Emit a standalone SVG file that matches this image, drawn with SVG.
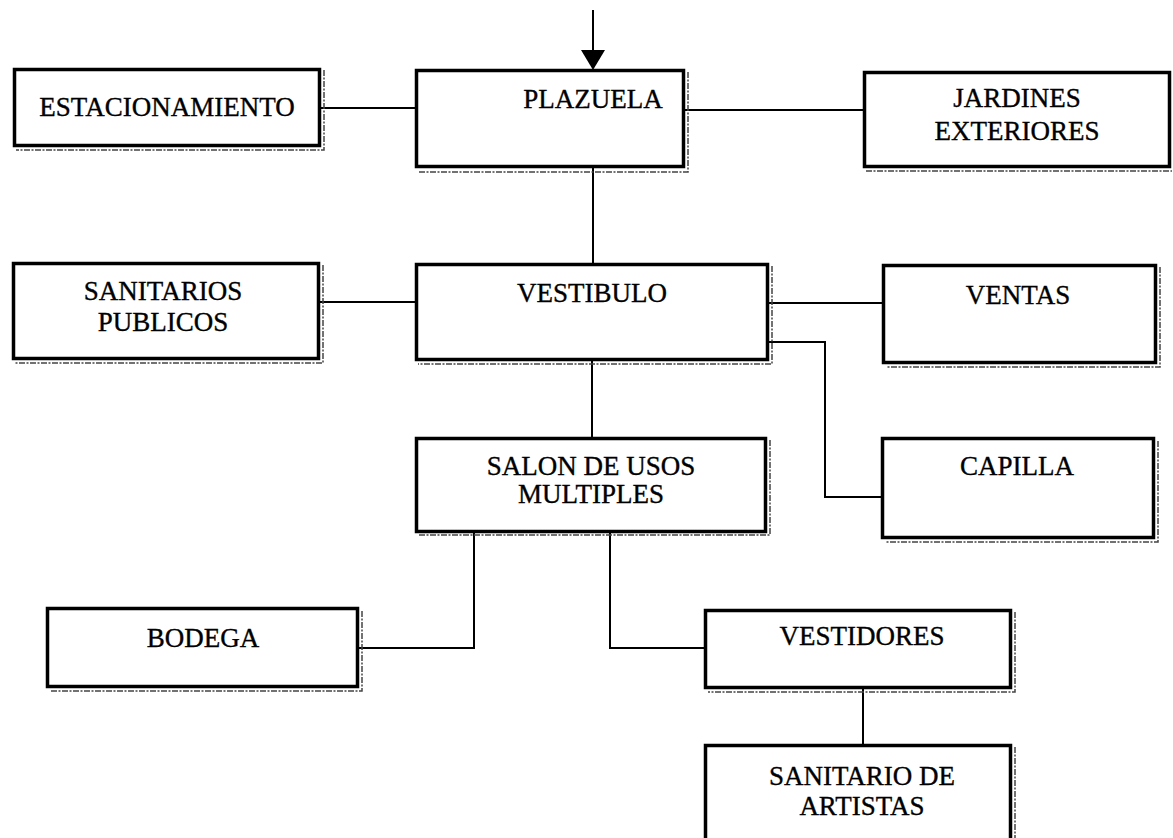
<svg xmlns="http://www.w3.org/2000/svg" width="1173" height="838" viewBox="0 0 1173 838">
<style>
.box{fill:#fff;stroke:#000;stroke-width:3.5}
.sh{fill:none;stroke:#444;stroke-width:1.5;stroke-dasharray:6 1.5 2 1.5}
.lbl{font-family:"Liberation Serif","Times New Roman",serif;font-size:27px;fill:#000;stroke:#000;stroke-width:0.35;text-anchor:middle}
.c{fill:none;stroke:#000;stroke-width:2}
</style>
<rect width="1173" height="838" fill="#fff"/>
<g id="connectors">
<line class="c" x1="593" y1="10" x2="593" y2="54"/>
<polygon points="581,50 605,50 593,70" fill="#000"/>
<line class="c" x1="320" y1="108" x2="415" y2="108"/>
<line class="c" x1="683" y1="110" x2="863" y2="110"/>
<line class="c" x1="593" y1="166" x2="593" y2="264"/>
<line class="c" x1="318" y1="302" x2="415" y2="302"/>
<line class="c" x1="767" y1="303" x2="883" y2="303"/>
<polyline class="c" points="767,342 825,342 825,497 882,497"/>
<line class="c" x1="592" y1="359" x2="592" y2="438"/>
<polyline class="c" points="474,531 474,648 357,648"/>
<polyline class="c" points="610,531 610,648 705,648"/>
<line class="c" x1="863" y1="687" x2="863" y2="745"/>
</g>
<g id="estacionamiento">
<polyline class="sh" points="324,70 324,150 16,150"/>
<rect class="box" x="14.5" y="69.5" width="305" height="76"/>
<text class="lbl" x="167" y="116" font-size="27.5">ESTACIONAMIENTO</text>
</g>
<g id="plazuela">
<polyline class="sh" points="688,72 688,172 418,172"/>
<rect class="box" x="416.5" y="70.5" width="267" height="96"/>
<text class="lbl" x="593" y="108">PLAZUELA</text>
</g>
<g id="jardines">
<polyline class="sh" points="866,171 1172,171"/>
<rect class="box" x="864.5" y="72.5" width="305" height="94"/>
<text class="lbl" x="1017" y="107">JARDINES</text>
<text class="lbl" x="1017" y="140">EXTERIORES</text>
</g>
<g id="sanitarios-publicos">
<polyline class="sh" points="323,265 323,363 15,363"/>
<rect class="box" x="13.5" y="263.5" width="305" height="95"/>
<text class="lbl" x="163" y="300">SANITARIOS</text>
<text class="lbl" x="163" y="331">PUBLICOS</text>
</g>
<g id="vestibulo">
<polyline class="sh" points="772,266 772,364 418,364"/>
<rect class="box" x="416.5" y="264.5" width="351" height="95"/>
<text class="lbl" x="592" y="302">VESTIBULO</text>
</g>
<g id="ventas">
<polyline class="sh" points="1160,267 1160,367 886,367"/>
<rect class="box" x="883.5" y="265.5" width="272" height="97"/>
<text class="lbl" x="1018" y="304">VENTAS</text>
</g>
<g id="salon">
<polyline class="sh" points="770,440 770,535 418,535"/>
<rect class="box" x="416.5" y="438.5" width="349" height="93"/>
<text class="lbl" x="591" y="475">SALON DE USOS</text>
<text class="lbl" x="591" y="503">MULTIPLES</text>
</g>
<g id="capilla">
<polyline class="sh" points="1158,441 1158,542 885,542"/>
<rect class="box" x="882.5" y="438.5" width="271" height="99"/>
<text class="lbl" x="1017" y="475">CAPILLA</text>
</g>
<g id="bodega">
<polyline class="sh" points="362,611 362,691 50,691"/>
<rect class="box" x="47.5" y="608.5" width="310" height="78"/>
<text class="lbl" x="203" y="647">BODEGA</text>
</g>
<g id="vestidores">
<polyline class="sh" points="1015,612 1015,692 708,692"/>
<rect class="box" x="705.5" y="610.5" width="305" height="77"/>
<text class="lbl" x="862" y="645">VESTIDORES</text>
</g>
<g id="sanitario-artistas">
<polyline class="sh" points="1015,747 1015,838"/>
<rect class="box" x="705.5" y="745.5" width="305" height="110"/>
<text class="lbl" x="862" y="785">SANITARIO DE</text>
<text class="lbl" x="862" y="815">ARTISTAS</text>
</g>
</svg>
